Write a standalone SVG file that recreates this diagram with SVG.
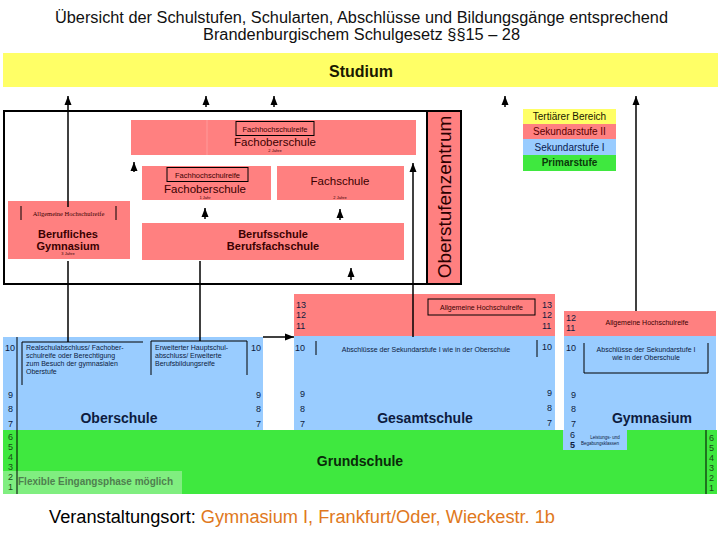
<svg xmlns="http://www.w3.org/2000/svg" width="720" height="540" viewBox="0 0 720 540">
<defs>
<style>
text{font-family:"Liberation Sans",Arial,sans-serif}
.red{fill:#FF8080}
.blue{fill:#99CCFF}
.green{fill:#3FE83F}
.yel{fill:#FFFF66}
.ln{stroke:#000;stroke-width:1.5;fill:none}
.thin{stroke:#000;stroke-width:1;fill:none}
.num{font-size:9px;fill:#0d1b3e}
.gnum{font-size:9px;fill:#1a4a1a}
.sm{font-size:7px;fill:#0d1b3e}
.tiny{font-size:4px;fill:#3a0000;text-anchor:middle}
.mr{fill:#3a0000}
.bold{font-weight:bold}
.mid{text-anchor:middle}
</style>
<marker id="arr" markerUnits="userSpaceOnUse" markerWidth="10" markerHeight="8" refX="9" refY="4" orient="auto">
<path d="M0,0.5 L9,4 L0,7.5 z" fill="#000"/>
</marker>
</defs>
<rect width="720" height="540" fill="#fff"/>

<g id="title">
<text x="361.5" y="23" font-size="16" class="mid" textLength="613" lengthAdjust="spacingAndGlyphs" fill="#111">Übersicht der Schulstufen, Schularten, Abschlüsse und Bildungsgänge entsprechend</text>
<text x="361.5" y="40" font-size="16" class="mid" textLength="317" lengthAdjust="spacingAndGlyphs" fill="#111">Brandenburgischem Schulgesetz §§15 – 28</text>
</g>

<g id="studium">
<rect x="3" y="53" width="715" height="34" class="yel"/>
<text x="361" y="77" font-size="16" class="mid bold" fill="#1a1a00">Studium</text>
</g>

<g id="legend">
<rect x="523" y="109" width="93" height="15" class="yel"/>
<rect x="523" y="124" width="93" height="15" class="red"/>
<rect x="523" y="139" width="93" height="16" class="blue"/>
<rect x="523" y="155" width="93" height="16" class="green"/>
<text x="569.5" y="120" font-size="10" class="mid" fill="#1a1a00">Tertiärer Bereich</text>
<text x="569.5" y="135" font-size="10" class="mid" fill="#5a0000">Sekundarstufe II</text>
<text x="569.5" y="151" font-size="10" class="mid" fill="#0a1a50">Sekundarstufe I</text>
<text x="569.5" y="166" font-size="10" class="mid bold" fill="#0a3a0a">Primarstufe</text>
</g>

<g id="osz-frame">
<rect x="4" y="111" width="457" height="173" fill="#fff" stroke="#000" stroke-width="2"/>
<rect x="427" y="111" width="34" height="173" class="red" stroke="#000" stroke-width="2"/>
<text transform="translate(451,197) rotate(-90)" font-size="19" class="mid" fill="#2a0000">Oberstufenzentrum</text>
</g>

<g id="fos2">
<rect x="131" y="120" width="285" height="35" class="red"/>
<line x1="207" y1="120" x2="207" y2="155" stroke="#ff9a9a" stroke-width="1"/>
<rect x="236" y="121.5" width="78" height="14" class="thin"/>
<text x="275" y="132" font-size="7.5" class="mid mr">Fachhochschulreife</text>
<text x="275" y="146" font-size="11.5" class="mid mr">Fachoberschule</text>
<text x="275" y="152" class="tiny">2 Jahre</text>
</g>

<g id="fos1">
<rect x="142" y="166" width="129" height="34" class="red"/>
<rect x="167" y="167.5" width="81" height="14" class="thin"/>
<text x="207.5" y="178" font-size="7.5" class="mid mr">Fachhochschulreife</text>
<text x="205" y="193" font-size="11.5" class="mid mr">Fachoberschule</text>
<text x="205" y="198.5" class="tiny">1 Jahr</text>
</g>

<g id="fachschule">
<rect x="277" y="166" width="127" height="34" class="red"/>
<text x="340" y="185" font-size="11.5" class="mid mr">Fachschule</text>
<text x="340" y="198.5" class="tiny">2 Jahre</text>
</g>

<g id="berufsschule">
<rect x="142" y="223" width="262" height="37" class="red"/>
<text x="273" y="238" font-size="11" class="mid bold mr">Berufsschule</text>
<text x="273" y="250" font-size="11" class="mid bold mr">Berufsfachschule</text>
</g>

<g id="berufliches-gymnasium">
<rect x="8" y="201" width="122" height="58" class="red"/>
<line x1="21" y1="206" x2="21" y2="220" class="thin"/>
<line x1="116" y1="206" x2="116" y2="220" class="thin"/>
<text x="68.5" y="216" font-size="6.5" class="mid mr" style="font-family:'Liberation Serif',serif">Allgemeine Hochschulreife</text>
<text x="68" y="238" font-size="11" class="mid bold mr">Berufliches</text>
<text x="68" y="250" font-size="11" class="mid bold mr">Gymnasium</text>
<text x="68" y="255" class="tiny">3 Jahre</text>
</g>

<g id="grundschule">
<rect x="3" y="430" width="714" height="64" class="green"/>
<rect x="3" y="471" width="179" height="23" fill="#80EE80"/>
<text x="18" y="485" font-size="10" class="bold" fill="#4f7f4f">Flexible Eingangsphase möglich</text>
<text x="360" y="466" font-size="14" class="mid bold" fill="#0a2a0a">Grundschule</text>
<line x1="17" y1="430" x2="17" y2="494" class="thin"/>
<line x1="706" y1="430" x2="706" y2="494" class="thin"/>
<text x="8" y="440" class="gnum">6</text>
<text x="8" y="450" class="gnum">5</text>
<text x="8" y="460" class="gnum">4</text>
<text x="8" y="470" class="gnum">3</text>
<text x="8" y="480" class="gnum">2</text>
<text x="8" y="490" class="gnum">1</text>
<text x="709" y="441" class="gnum">6</text>
<text x="709" y="451" class="gnum">5</text>
<text x="709" y="461" class="gnum">4</text>
<text x="709" y="471" class="gnum">3</text>
<text x="709" y="481" class="gnum">2</text>
<text x="709" y="491" class="gnum">1</text>
</g>

<g id="oberschule">
<rect x="3" y="337" width="260" height="93" class="blue"/>
<line x1="17" y1="337" x2="17" y2="430" class="thin"/>
<path d="M22,385 V342 H143" class="thin"/>
<text x="26" y="350" class="sm">Realschulabschluss/ Fachober-</text>
<text x="26" y="358" class="sm">schulreife oder Berechtigung</text>
<text x="26" y="366" class="sm">zum Besuch der gymnasialen</text>
<text x="26" y="374" class="sm">Oberstufe</text>
<path d="M151,375 V341 H247 V375" class="thin"/>
<text x="155" y="350" class="sm">Erweiterter Hauptschul-</text>
<text x="155" y="358" class="sm">abschluss/ Erweiterte</text>
<text x="155" y="366" class="sm">Berufsbildungsreife</text>
<text x="5" y="351" class="num">10</text>
<text x="8" y="398" class="num">9</text>
<text x="8" y="412" class="num">8</text>
<text x="8" y="427" class="num">7</text>
<text x="251" y="351" class="num">10</text>
<text x="256" y="398" class="num">9</text>
<text x="256" y="412" class="num">8</text>
<text x="256" y="427" class="num">7</text>
<text x="119" y="423" font-size="14" class="mid bold" fill="#0d1b3e">Oberschule</text>
</g>

<g id="gesamtschule">
<rect x="294" y="294" width="261" height="42" class="red"/>
<rect x="294" y="336" width="261" height="94" class="blue"/>
<rect x="428" y="299" width="107" height="16" class="thin"/>
<text x="481.5" y="310" font-size="7" class="mid mr">Allgemeine Hochschulreife</text>
<text x="296" y="308" class="num" fill="#3a0000">13</text>
<text x="296" y="318" class="num" fill="#3a0000">12</text>
<text x="296" y="329" class="num" fill="#3a0000">11</text>
<text x="542" y="308" class="num" fill="#3a0000">13</text>
<text x="542" y="318" class="num" fill="#3a0000">12</text>
<text x="542" y="329" class="num" fill="#3a0000">11</text>
<line x1="316" y1="341" x2="316" y2="355" class="thin"/>
<line x1="537" y1="340" x2="537" y2="357" class="thin"/>
<text x="426" y="352" class="sm mid">Abschlüsse der Sekundarstufe I wie in der Oberschule</text>
<text x="295" y="351" class="num">10</text>
<text x="542" y="350" class="num">10</text>
<text x="300" y="397" class="num">9</text>
<text x="300" y="412" class="num">8</text>
<text x="300" y="427" class="num">7</text>
<text x="547" y="396" class="num">9</text>
<text x="547" y="411" class="num">8</text>
<text x="547" y="426" class="num">7</text>
<text x="425" y="423" font-size="14" class="mid bold" fill="#0d1b3e">Gesamtschule</text>
</g>

<g id="gymnasium">
<rect x="564" y="311" width="152" height="25" class="red"/>
<rect x="564" y="336" width="152" height="94" class="blue"/>
<rect x="563" y="430" width="64" height="20" class="blue"/>
<text x="566" y="321" class="num" fill="#3a0000">12</text>
<text x="566" y="331" class="num" fill="#3a0000">11</text>
<text x="647" y="325" font-size="7" class="mid mr">Allgemeine Hochschulreife</text>
<path d="M584,343 V373 H708 V343" class="thin"/>
<text x="646" y="352" class="sm mid">Abschlüsse der Sekundarstufe I</text>
<text x="646" y="360" class="sm mid">wie in der Oberschule</text>
<text x="566" y="351" class="num">10</text>
<text x="571" y="398" class="num">9</text>
<text x="571" y="412" class="num">8</text>
<text x="571" y="427" class="num">7</text>
<text x="570" y="438" class="num">6</text>
<text x="570" y="448" class="num bold">5</text>
<text x="605" y="439" font-size="4.5" class="mid" fill="#0d1b3e">Leistungs- und</text>
<text x="600" y="445" font-size="4.5" class="mid" fill="#0d1b3e">Begabungsklassen</text>
<text x="652" y="423" font-size="14" class="mid bold" fill="#0d1b3e">Gymnasium</text>
</g>

<g id="connectors">
<line x1="68" y1="207" x2="68" y2="96" class="ln" marker-end="url(#arr)"/>
<line x1="206" y1="107" x2="206" y2="96" class="ln" marker-end="url(#arr)"/>
<line x1="274" y1="107" x2="274" y2="96" class="ln" marker-end="url(#arr)"/>
<line x1="505" y1="107" x2="505" y2="96" class="ln" marker-end="url(#arr)"/>
<line x1="636" y1="311" x2="636" y2="96" class="ln" marker-end="url(#arr)"/>
<line x1="134" y1="172" x2="134" y2="162" class="ln" marker-end="url(#arr)"/>
<line x1="413" y1="337" x2="413" y2="163" class="ln" marker-end="url(#arr)"/>
<line x1="205" y1="219" x2="205" y2="208" class="ln" marker-end="url(#arr)"/>
<line x1="340" y1="220" x2="340" y2="209" class="ln" marker-end="url(#arr)"/>
<line x1="351" y1="280" x2="351" y2="268" class="ln" marker-end="url(#arr)"/>
<line x1="68" y1="342" x2="68" y2="261" class="ln"/>
<line x1="200" y1="341" x2="200" y2="261" class="ln"/>
<line x1="263" y1="337" x2="294" y2="337" class="ln" marker-end="url(#arr)"/>
</g>

<g id="footer">
<text x="49" y="523" font-size="18" textLength="506" lengthAdjust="spacingAndGlyphs" fill="#000">Veranstaltungsort: <tspan fill="#E07820">Gymnasium I, Frankfurt/Oder, Wieckestr. 1b</tspan></text>
</g>
</svg>
